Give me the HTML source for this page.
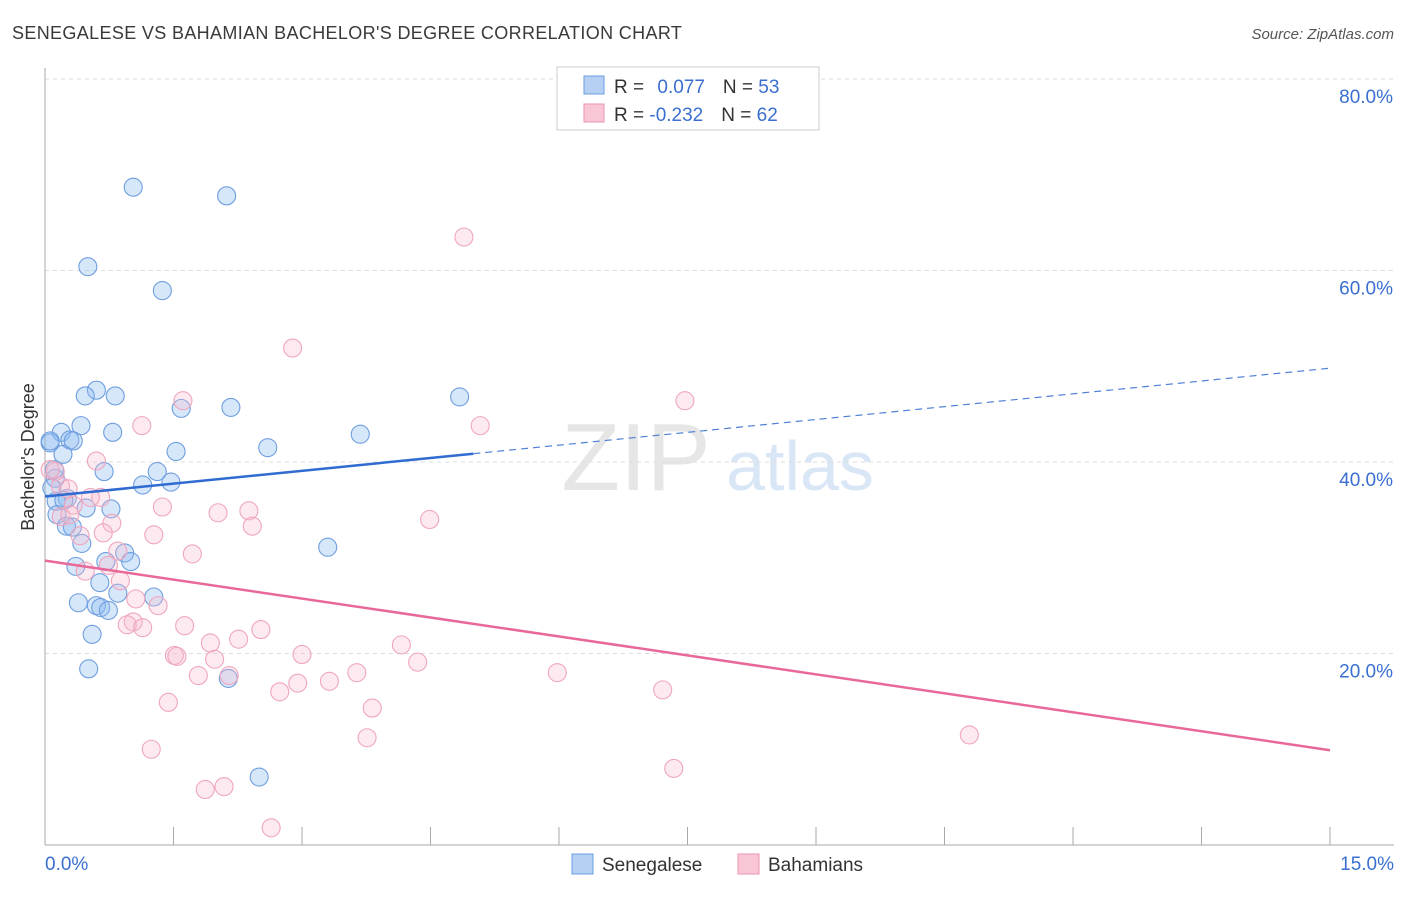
<!DOCTYPE html>
<html><head><meta charset="utf-8"><style>
body{margin:0;background:#fff;font-family:"Liberation Sans",sans-serif}
svg text{font-family:"Liberation Sans",sans-serif}
</style></head><body>
<svg id="chart" width="1406" height="892" xmlns="http://www.w3.org/2000/svg">
<text x="12" y="39" font-size="18" fill="#3a3a3a" letter-spacing="0.35">SENEGALESE VS BAHAMIAN BACHELOR'S DEGREE CORRELATION CHART</text>
<text x="1394" y="39" font-size="15" fill="#555" font-style="italic" text-anchor="end">Source: ZipAtlas.com</text>
<text x="636" y="490" font-size="96" fill="#e6e6e6" text-anchor="middle" font-family="Liberation Serif">ZIP</text>
<text x="800" y="490" font-size="70" fill="#d8e6f6" text-anchor="middle">atlas</text>
<g id="grid"></g>
<g id="axes"></g>
<g id="marks"></g>
<text transform="translate(34,457) rotate(-90)" font-size="18" fill="#333" text-anchor="middle">Bachelor's Degree</text>
<g>
<rect x="557" y="67" width="262" height="63" fill="#fff" stroke="#ccc"/>
<rect x="584" y="76" width="20" height="18" fill="#b5d0f3" stroke="#6a9ee0"/>
<rect x="584" y="104" width="20" height="18" fill="#f9c6d5" stroke="#ea95b1"/>
<text x="614" y="93" font-size="19" fill="#333">R = <tspan fill="#3a6fd0" dx="8">0.077</tspan><tspan dx="18" fill="#333">N = </tspan><tspan fill="#3a6fd0">53</tspan></text>
<text x="614" y="121" font-size="19" fill="#333">R = <tspan fill="#3a6fd0">-0.232</tspan><tspan dx="18" fill="#333">N = </tspan><tspan fill="#3a6fd0">62</tspan></text>
</g>
<g>
<rect x="572" y="854" width="21" height="20" fill="#b5d0f3" stroke="#6a9ee0"/>
<text x="602" y="871" font-size="19" fill="#333">Senegalese</text>
<rect x="738" y="854" width="21" height="20" fill="#f9c6d5" stroke="#ea95b1"/>
<text x="768" y="871" font-size="19" fill="#333">Bahamians</text>
</g>
</svg>
<script>
const xTicks=[0,1.5,3,4.5,6,7.5,9,10.5,12,13.5,15];
const yTicks=[20,40,60,80];
const yTickLabels=["20.0%","40.0%","60.0%","80.0%"];
const senX=[1.03,2.12,0.50,1.37,0.60,0.47,0.82,1.59,2.17,4.84,0.42,0.19,0.79,0.29,0.33,0.06,1.53,2.60,3.68,0.21,0.69,1.31,1.47,1.14,0.12,0.08,0.26,0.13,0.48,0.77,0.14,0.25,0.32,0.43,3.30,0.93,0.71,1.00,0.36,0.64,0.85,1.27,0.39,0.60,0.65,0.74,0.55,0.51,2.14,2.50,0.06,0.11,0.22];
const senY=[68.7,67.8,60.4,57.9,47.5,46.9,46.9,45.6,45.7,46.8,43.8,43.1,43.1,42.3,42.2,42.0,41.1,41.5,42.9,40.8,39.0,39.0,37.9,37.6,38.3,37.3,36.2,35.9,35.2,35.1,34.5,33.3,33.2,31.5,31.1,30.5,29.6,29.6,29.1,27.4,26.3,25.9,25.3,25.0,24.8,24.5,22.0,18.4,17.4,7.1,42.2,39.2,36.0];
const bahX=[4.89,2.89,7.47,1.61,5.08,1.13,0.60,0.12,0.18,0.27,0.65,0.53,0.33,1.37,2.02,2.38,4.49,0.78,2.42,0.68,1.27,0.41,0.19,0.85,1.72,0.74,0.47,0.88,1.06,1.32,1.03,0.96,1.14,1.63,1.93,2.26,2.52,4.16,1.51,1.54,1.98,3.00,4.35,5.98,3.64,2.15,1.79,2.95,3.32,2.74,7.21,1.44,3.82,3.76,10.79,1.24,7.34,1.87,2.09,2.64,0.06,0.29];
const bahY=[63.5,51.9,46.4,46.4,43.8,43.8,40.1,39.0,37.5,37.2,36.3,36.3,35.5,35.3,34.7,34.9,34.0,33.6,33.3,32.6,32.4,32.3,34.3,30.7,30.4,29.2,28.6,27.6,25.7,25.0,23.3,23.0,22.7,22.9,21.1,21.5,22.5,20.9,19.8,19.7,19.4,19.9,19.1,18.0,18.0,17.7,17.7,16.9,17.1,16.0,16.2,14.9,14.3,11.2,11.5,10.0,8.0,5.8,6.1,1.8,39.2,34.5];
const senTrend=[36.4,49.8];
const bahTrend=[29.7,9.9];
const senSolidEnd=5.0;

const NS="http://www.w3.org/2000/svg";
const X0=45,X1=1330,Y0=845,YPER=9.575;
const sx=v=>X0+(X1-X0)*v/15;
const sy=v=>Y0-v*YPER;
function mk(tag,attrs,parent){const e=document.createElementNS(NS,tag);for(const k in attrs)e.setAttribute(k,attrs[k]);document.getElementById(parent).appendChild(e);return e;}

yTicks.forEach((t,i)=>{
  const g=mk('line',{x1:X0,x2:1394,y1:sy(t),y2:sy(t),stroke:'#ddd','stroke-dasharray':'4,4'},'grid');
  
  
  const l=mk('text',{x:1393,y:sy(t)+24,'font-size':19,fill:'#3a6fd0','text-anchor':'end'},'axes');
  l.textContent=yTickLabels[i];
  
  
});
const ax=mk('line',{x1:X0,x2:X0,y1:68,y2:Y0,stroke:'#aaa'},'axes');


const bx=mk('line',{x1:X0,x2:1394,y1:Y0,y2:Y0,stroke:'#aaa'},'axes');


xTicks.forEach(t=>{
  const k=mk('line',{x1:sx(t),x2:sx(t),y1:Y0,y2:Y0-18,stroke:'#aaa'},'axes');
  
  
});
const xl0=mk('text',{x:45,y:870,'font-size':19,fill:'#3a6fd0'},'axes');xl0.textContent='0.0%';


const xl1=mk('text',{x:1394,y:870,'font-size':19,fill:'#3a6fd0','text-anchor':'end'},'axes');xl1.textContent='15.0%';



senX.forEach((x,i)=>{
  const c=mk('circle',{cx:sx(x),cy:sy(senY[i]),r:9,fill:'rgba(140,185,240,0.35)',stroke:'#6e9edf','stroke-width':1.1},'marks');
  
  
});
bahX.forEach((x,i)=>{
  const c=mk('circle',{cx:sx(x),cy:sy(bahY[i]),r:9,fill:'rgba(248,185,205,0.3)',stroke:'#efa6be','stroke-width':1.1},'marks');
  
  
});
const ty=(tr,x)=>tr[0]+(tr[1]-tr[0])*x/15;
const s1=mk('line',{x1:sx(0),y1:sy(senTrend[0]),x2:sx(senSolidEnd),y2:sy(ty(senTrend,senSolidEnd)),stroke:'#2f6bd0','stroke-width':2.5},'marks');


const s2=mk('line',{x1:sx(senSolidEnd),y1:sy(ty(senTrend,senSolidEnd)),x2:sx(15),y2:sy(senTrend[1]),stroke:'#4f80d6','stroke-width':1.2,'stroke-dasharray':'7,5'},'marks');


const p1=mk('line',{x1:sx(0),y1:sy(bahTrend[0]),x2:sx(15),y2:sy(bahTrend[1]),stroke:'#e8689a','stroke-width':2.5},'marks');


</script>
</body></html>
